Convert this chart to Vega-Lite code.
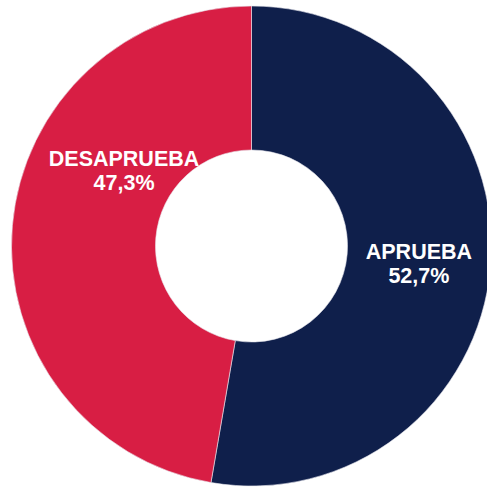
{
  "$schema": "https://vega.github.io/schema/vega-lite/v6.json",
  "width": 471,
  "height": 482,
  "autosize": "none",
  "padding": {"left": 16, "top": 5, "right": 0, "bottom": 0},
  "background": "white",
  "view": {"stroke": null},
  "data": {"values": [
    {"cat": "APRUEBA", "value": 52.7, "label": "APRUEBA\n52,7%"},
    {"cat": "DESAPRUEBA", "value": 47.3, "label": "DESAPRUEBA\n47,3%"}
  ]},
  "encoding": {
    "theta": {"field": "value", "type": "quantitative", "stack": true},
    "color": {"field": "cat", "type": "nominal", "legend": null,
      "scale": {"domain": ["APRUEBA", "DESAPRUEBA"], "range": ["#0f1f4b", "#d81e44"]}}
  },
  "layer": [
    {"mark": {"type": "arc", "outerRadius": 240, "innerRadius": 96, "stroke": "#e8e8ee", "strokeWidth": 0.6}},
    {"mark": {"type": "text", "radius": 168, "dy": -7, "fill": "white", "font": "Liberation Sans", "fontWeight": "bold", "fontSize": 21.5, "lineBreak": "\n", "lineHeight": 24, "align": "center", "baseline": "middle"},
     "encoding": {"text": {"condition": {"test": "datum.cat == 'APRUEBA'", "field": "label"}, "value": ""}, "color": {"value": "white"}}},
    {"mark": {"type": "text", "radius": 147, "dx": 19, "dy": -74, "fill": "white", "font": "Liberation Sans", "fontWeight": "bold", "fontSize": 21.5, "lineBreak": "\n", "lineHeight": 24, "align": "center", "baseline": "middle"},
     "encoding": {"text": {"condition": {"test": "datum.cat == 'DESAPRUEBA'", "field": "label"}, "value": ""}, "color": {"value": "white"}}}
  ]
}
